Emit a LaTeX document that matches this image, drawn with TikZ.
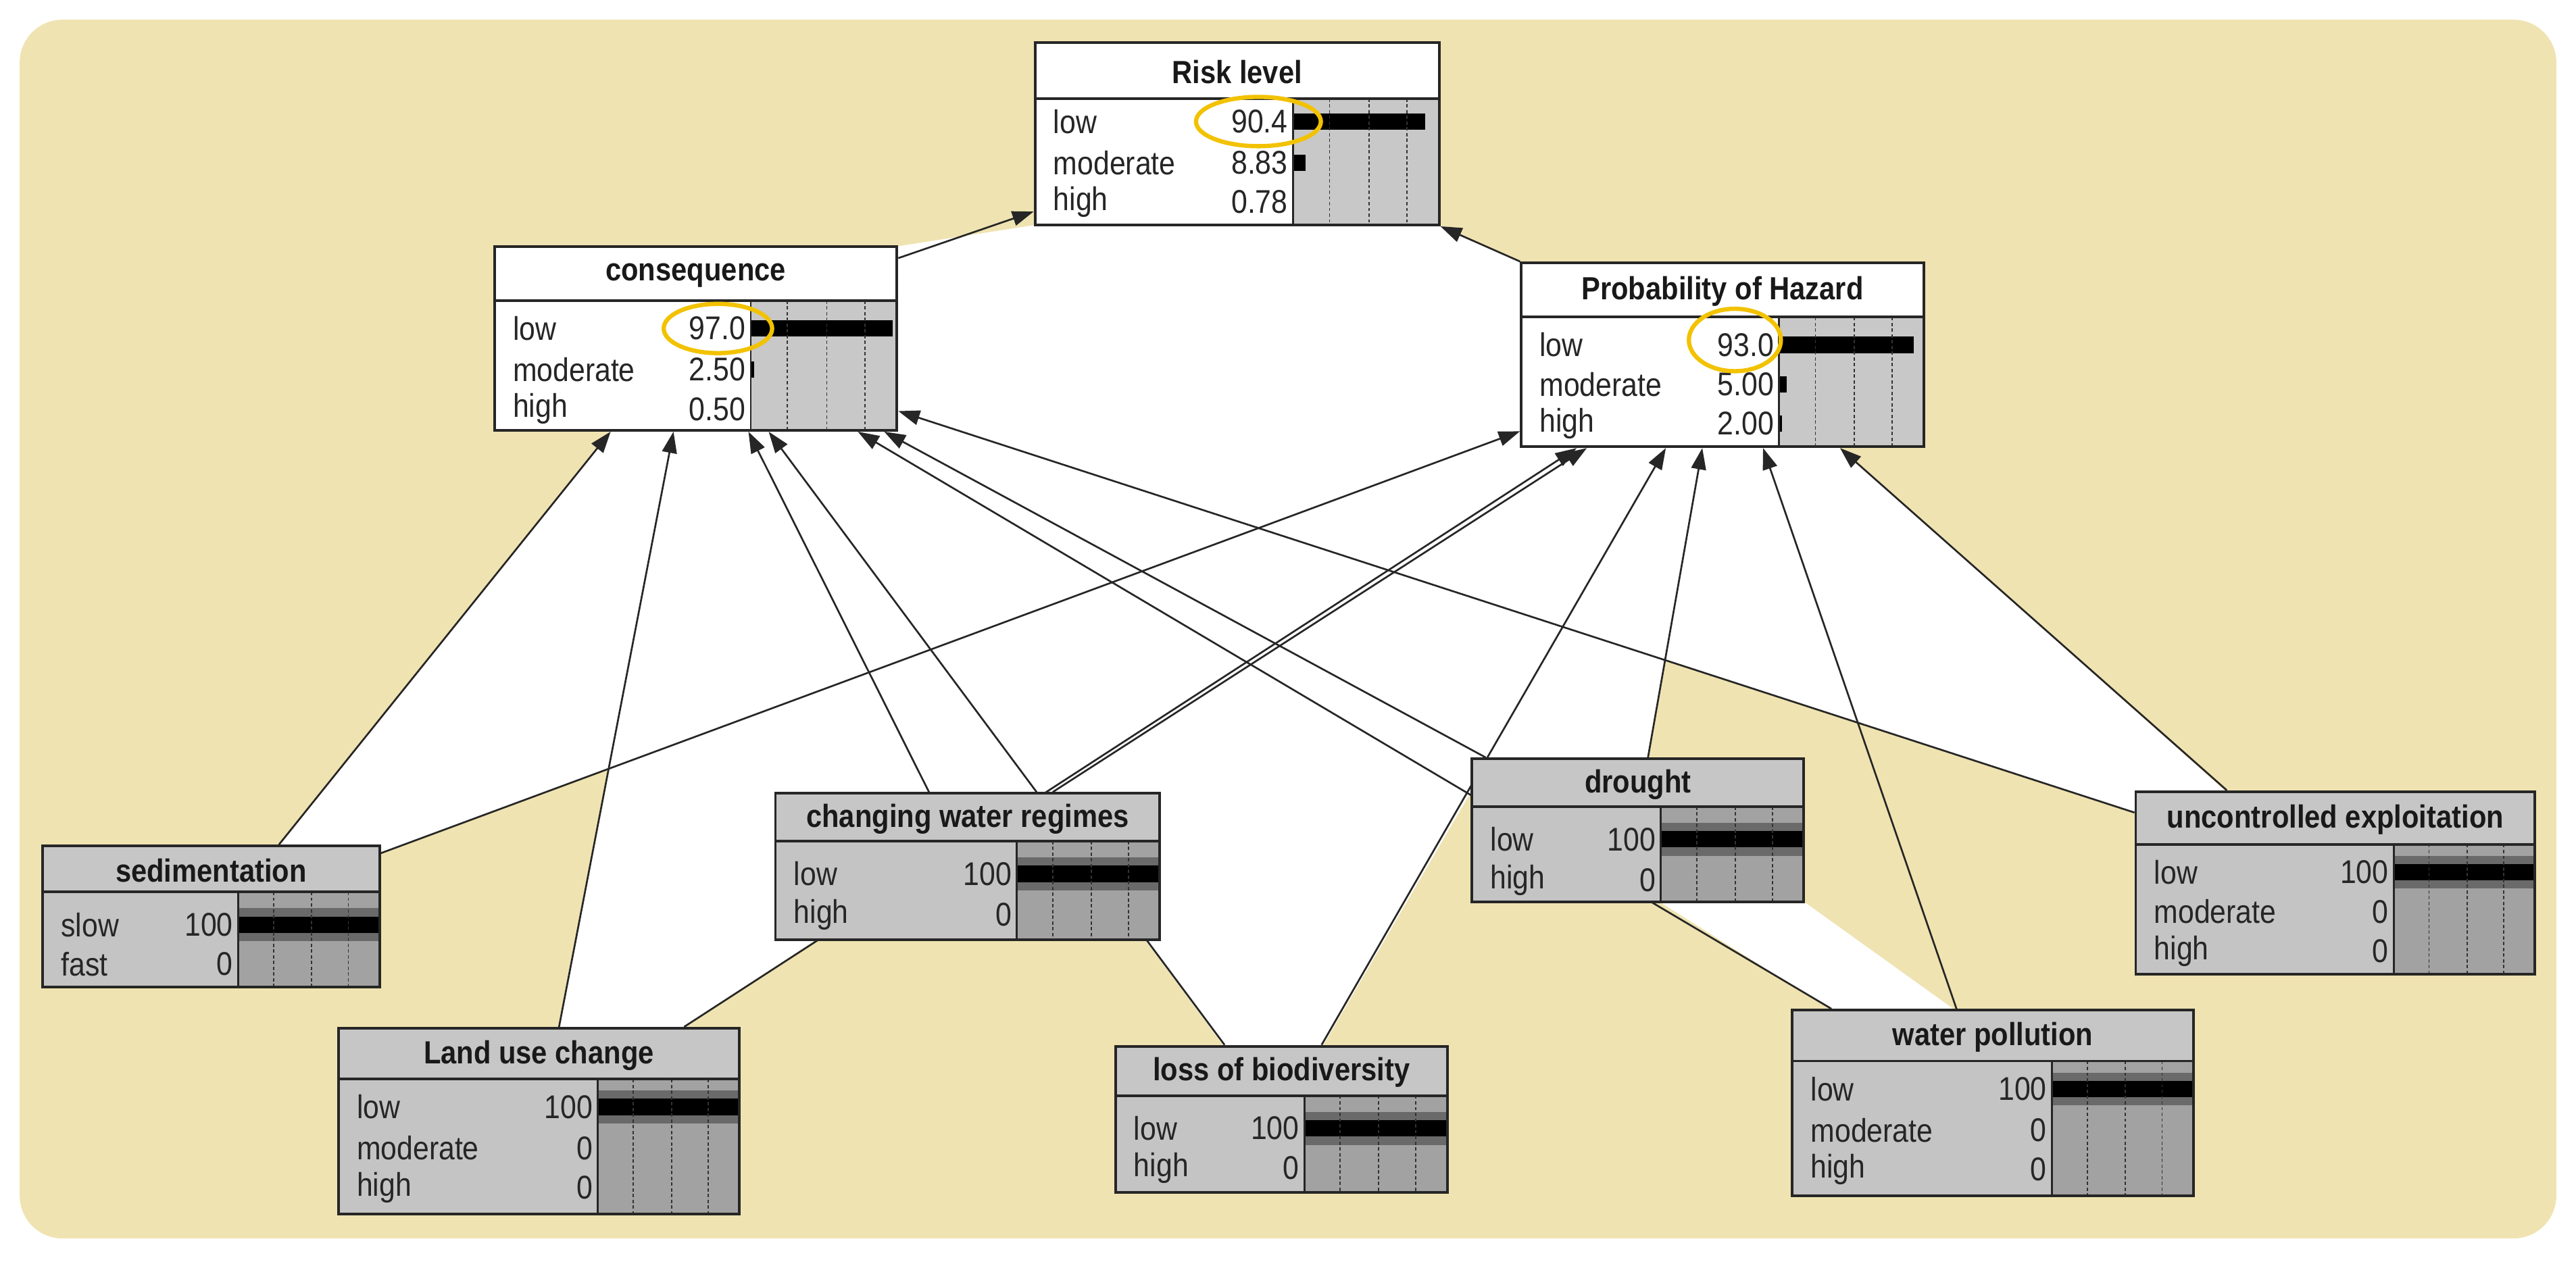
\documentclass[tikz,border=0pt]{standalone}
\usepackage{fontspec}
\setmainfont{Liberation Sans}[FakeStretch=0.88]
\usetikzlibrary{arrows.meta,calc}
\definecolor{tan}{HTML}{EFE3B1}
\definecolor{titG}{HTML}{C6C6C6}
\definecolor{labG}{HTML}{C4C4C4}
\definecolor{barG}{HTML}{A2A2A2}
\definecolor{barW}{HTML}{C8C8C8}
\definecolor{band}{HTML}{6A6A6A}
\definecolor{ring}{HTML}{F2C200}
\pgfdeclarelayer{bg}\pgfdeclarelayer{edges}\pgfsetlayers{bg,edges,main}
\tikzset{
 edge/.style={draw=black!85,line width=1.1pt,-{Triangle[length=13pt,width=9pt]}},
 lbl/.style={inner sep=0pt,font=\fontsize{20}{22}\selectfont,text=black!85},
 ttl/.style={inner sep=0pt,font=\fontsize{19.5}{22}\selectfont\bfseries,text=black!90},
 ring/.style={draw=ring,line width=2.6pt},
}
\newcommand\atN[2]{($(#1.north west)!#2!(#1.north east)$)}
\newcommand\atS[2]{($(#1.south west)!#2!(#1.south east)$)}
\newcommand\atE[2]{($(#1.north east)!#2!(#1.south east)$)}
\newcommand\atW[2]{($(#1.north west)!#2!(#1.south west)$)}
% name x1 y1 x2 y2 ytitle xbar type
\newcommand\bnbox[8]{%
 \def\bnN{#1}\def\bnXa{#2}\def\bnYa{#3}\def\bnXb{#4}\def\bnYb{#5}\def\bnYt{#6}\def\bnXc{#7}%
 \if w#8\def\bnT{white}\def\bnL{white}\def\bnB{barW}\def\bnG{0}\else\def\bnT{titG}\def\bnL{labG}\def\bnB{barG}\def\bnG{1}\fi
 \fill[\bnL] (#2,#6) rectangle (#7,#5);
 \fill[\bnB] (#7,#6) rectangle (#4,#5);
 \fill[\bnT] (#2,#3) rectangle (#4,#6);
}
% y label value pct
\newcommand\bnrow[4]{%
 \node[lbl,anchor=west] at (\bnXa+11,#1) {#2};
 \node[lbl,anchor=east] at (\bnXc-3,#1) {#3};
 \if 1\bnG
   \ifdim #4pt>50pt \fill[band] (\bnXc,#1-10) rectangle (\bnXb,#1+10);\fi
 \fi
 \ifdim #4pt>0pt \fill[black] (\bnXc,#1-5) rectangle ({\bnXc+#4/100*(\bnXb-\bnXc)},#1+5);\fi
}
\newcommand\bnend[1]{%
 \foreach \f in {0.25,0.52,0.78}
   \draw[black!80,line width=0.7pt,dash pattern=on 2pt off 1.5pt] ({\bnXc+\f*(\bnXb-\bnXc)},\bnYt) -- ({\bnXc+\f*(\bnXb-\bnXc)},\bnYb);
 \draw[black!85,line width=1.6pt] (\bnXa,\bnYt) -- (\bnXb,\bnYt);
 \draw[black!85,line width=1.2pt] (\bnXc,\bnYt) -- (\bnXc,\bnYb);
 \node[draw=black!85,line width=1.6pt,inner sep=0pt,
   minimum width={(\bnXb-\bnXa)*1pt},minimum height={(\bnYb-\bnYa)*1pt}]
   (\bnN) at ({(\bnXa+\bnXb)/2},{(\bnYa+\bnYb)/2}) {};
 \node[ttl] at ({(\bnXa+\bnXb)/2},{(\bnYa+\bnYt)/2+1}) {#1};
}
\begin{document}
\begin{tikzpicture}[x=1pt,y=-1pt]
\useasboundingbox (0,0) rectangle (1568,768);
\begin{pgfonlayer}{bg}
\fill[white] (0,0) rectangle (1568,768);
\fill[tan,rounded corners=26pt] (12,12) rectangle (1556,754);
\fill[white] (546,150) -- (630,137) -- (876,137) -- (926,160) -- (1120,273) -- (1355,482)
 -- (1300,495) -- (1014,402) -- (1003,462) -- (896,462) -- (896,481) -- (805,637) -- (745,637)
 -- (697,572) -- (497,572) -- (415,626) -- (340,626) -- (370.7,468.4) -- (231,520) -- (170,515)
 -- (372,262) -- (301,262) -- (301,150) -- cycle;
\fill[white] (1010,549) -- (1115,615) -- (1190,615) -- (1098,549) -- cycle;
\end{pgfonlayer}

% Risk level
\bnbox{risk}{630}{26}{876}{137}{60}{787}{w}
\bnrow{74}{low}{90.4}{90.4}\bnrow{99}{moderate}{8.83}{8.83}\bnrow{123}{high}{0.78}{0.78}
\bnend{Risk level}
% consequence
\bnbox{cons}{301}{150}{546}{262}{183}{457}{w}
\bnrow{200}{low}{97.0}{97.0}\bnrow{225}{moderate}{2.50}{2.50}\bnrow{249}{high}{0.50}{0.50}
\bnend{consequence}
% Probability of Hazard
\bnbox{poh}{926}{160}{1171}{272}{193}{1083}{w}
\bnrow{210}{low}{93.0}{93.0}\bnrow{234}{moderate}{5.00}{5.00}\bnrow{258}{high}{2.00}{2.00}
\bnend{Probability of Hazard}
% sedimentation
\bnbox{sed}{26}{515}{231}{601}{543}{145}{g}
\bnrow{563}{slow}{100}{100}\bnrow{587}{fast}{0}{0}
\bnend{sedimentation}
% changing water regimes
\bnbox{cwr}{472}{483}{706}{572}{512}{619}{g}
\bnrow{532}{low}{100}{100}\bnrow{557}{high}{0}{0}
\bnend{changing water regimes}
% drought
\bnbox{dro}{896}{462}{1098}{549}{491}{1011}{g}
\bnrow{511}{low}{100}{100}\bnrow{536}{high}{0}{0}
\bnend{drought}
% uncontrolled exploitation
\bnbox{unc}{1300}{482}{1543}{593}{514}{1457}{g}
\bnrow{531}{low}{100}{100}\bnrow{555}{moderate}{0}{0}\bnrow{579}{high}{0}{0}
\bnend{uncontrolled exploitation}
% Land use change
\bnbox{land}{206}{626}{450}{739}{657}{364}{g}
\bnrow{674}{low}{100}{100}\bnrow{699}{moderate}{0}{0}\bnrow{723}{high}{0}{0}
\bnend{Land use change}
% loss of biodiversity
\bnbox{loss}{679}{637}{881}{726}{667}{794}{g}
\bnrow{687}{low}{100}{100}\bnrow{711}{high}{0}{0}
\bnend{loss of biodiversity}
% water pollution
\bnbox{wp}{1091}{615}{1335}{728}{646}{1249}{g}
\bnrow{663}{low}{100}{100}\bnrow{688}{moderate}{0}{0}\bnrow{712}{high}{0}{0}
\bnend{water pollution}

% highlight rings
\draw[ring] (766,74) ellipse [x radius=38pt,y radius=15pt];
\draw[ring] (437,200) ellipse [x radius=33pt,y radius=15pt];
\draw[ring] (1056,207) ellipse [x radius=28pt,y radius=19pt];

\begin{pgfonlayer}{edges}
\draw[edge] \atE{cons}{0.07} -- \atW{risk}{0.92};
\draw[edge] (poh.north west) -- (risk.south east);
\draw[edge] \atN{sed}{0.70} -- \atS{cons}{0.29};
\draw[edge] \atN{land}{0.55} -- \atS{cons}{0.445};
\draw[edge] \atN{cwr}{0.40} -- \atS{cons}{0.63};
\draw[edge] \atN{loss}{0.33} -- \atS{cons}{0.68};
\draw[edge] \atN{dro}{0.045} -- \atS{cons}{0.965};
\draw[edge] \atN{wp}{0.10} -- \atS{cons}{0.90};
\draw[edge] \atW{unc}{0.12} -- \atE{cons}{0.89};
\draw[edge] \atE{sed}{0.06} -- \atW{poh}{0.91};
\draw[edge] \atN{land}{0.86} -- \atS{poh}{0.14};
\draw[edge] \atN{cwr}{0.72} -- \atS{poh}{0.165};
\draw[edge] \atN{loss}{0.62} -- \atS{poh}{0.36};
\draw[edge] \atN{dro}{0.53} -- \atS{poh}{0.45};
\draw[edge] \atN{wp}{0.41} -- \atS{poh}{0.60};
\draw[edge] \atN{unc}{0.23} -- \atS{poh}{0.79};
\end{pgfonlayer}
\end{tikzpicture}
\end{document}
